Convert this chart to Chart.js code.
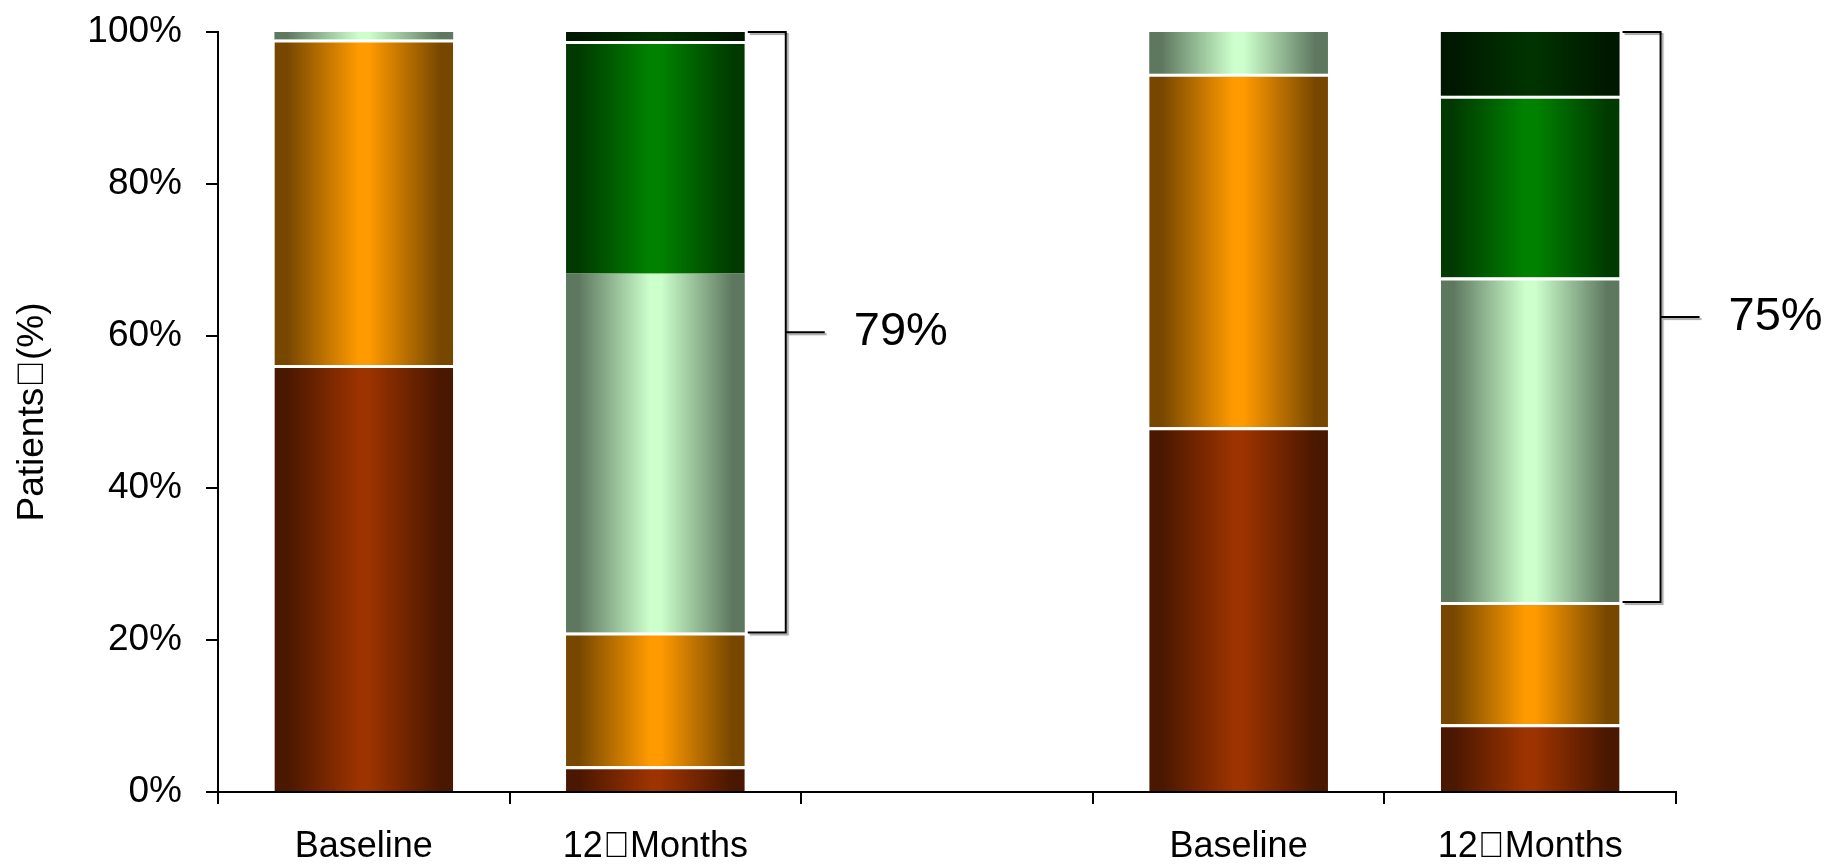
<!DOCTYPE html>
<html>
<head>
<meta charset="utf-8">
<script src="https://cdn.jsdelivr.net/npm/chart.js@4.4.1/dist/chart.umd.min.js"></script>
<style>
  html, body { margin: 0; padding: 0; background: #ffffff; }
  #wrap { width: 1829px; height: 864px; }
</style>
</head>
<body>
<div id="wrap"><canvas id="chart" width="1829" height="864"></canvas></div>
<script>
// Categories: two groups (Baseline / 12 Months) separated by an empty slot
const categories = ['Baseline', '12\uF0A0Months', '', 'Baseline', '12\uF0A0Months'];
const yTickValues = [0, 20, 40, 60, 80, 100];
const yTitle = 'Patients\uF0A0(%)';

// Stacked shares (%) per category, bottom to top
const level1 = [56.2, 3.4, null, 48.0, 8.9];     // red-brown
const level2 = [42.8, 17.6, null, 46.5, 16.1];   // orange
const level3 = [1.0, 47.2, null, 5.5, 42.7];     // light green
const level4 = [null, 30.6, null, null, 23.9];   // green
const level5 = [null, 1.2, null, null, 8.4];     // dark green

// Bars that get a bracket spanning levels 3-5
const bracketBars = [1, 4];

const levels = [level1, level2, level3, level4, level5];
const palettes = [
  { edge: '#4a1700', center: '#9c3300' },
  { edge: '#774700', center: '#ff9a00' },
  { edge: '#5e785f', center: '#ccffcc' },
  { edge: '#003a00', center: '#008200' },
  { edge: '#001800', center: '#003300' }
];
const BAR_PCT = 0.613;
const FONT = "'Liberation Sans', Arial, sans-serif";

function barGradient(pal) {
  return (ctx) => {
    const chart = ctx.chart;
    const xs = chart.scales && chart.scales.x;
    if (!xs || ctx.dataIndex === undefined || !chart.ctx) return pal.center;
    const cx = xs.getPixelForValue(ctx.dataIndex);
    const step = xs.getPixelForValue(1) - xs.getPixelForValue(0);
    const half = step * BAR_PCT / 2;
    if (!isFinite(cx) || !isFinite(half) || half <= 0) return pal.center;
    const g = chart.ctx.createLinearGradient(cx - half, 0, cx + half, 0);
    g.addColorStop(0, pal.edge);
    g.addColorStop(0.07, pal.edge);
    g.addColorStop(0.47, pal.center);
    g.addColorStop(0.53, pal.center);
    g.addColorStop(0.93, pal.edge);
    g.addColorStop(1, pal.edge);
    return g;
  };
}

// White separator above a segment when another segment sits on it
function separator(ctx) {
  const d = ctx.datasetIndex, i = ctx.dataIndex;
  if (d === 2 && i === 1) return 0; // light green meets green directly here
  for (let k = d + 1; k < levels.length; k++) {
    if (levels[k][i] !== null && levels[k][i] > 0) return { top: 3, right: 0, bottom: 0, left: 0 };
  }
  return 0;
}

const datasets = levels.map((vals, k) => ({
  data: vals,
  backgroundColor: barGradient(palettes[k]),
  borderColor: '#ffffff',
  borderWidth: separator,
  borderSkipped: 'start',
  barPercentage: BAR_PCT,
  categoryPercentage: 1.0
}));

const bracketPlugin = {
  id: 'brackets',
  afterDatasetsDraw(chart) {
    const ctx = chart.ctx;
    const ys = chart.scales.y;
    const meta = chart.getDatasetMeta(0);
    bracketBars.forEach((i) => {
      const el = meta.data[i];
      const right = el.x + el.width / 2;
      const lower = level1[i] + level2[i];
      const span = (level3[i] || 0) + (level4[i] || 0) + (level5[i] || 0);
      const upper = lower + span;
      const yLow = ys.getPixelForValue(lower);
      const yHigh = ys.getPixelForValue(upper);
      const mid = (yLow + yHigh) / 2;
      const xv = right + 41;
      ctx.save();
      ctx.strokeStyle = '#000';
      ctx.lineWidth = 2;
      ctx.shadowColor = 'rgba(0,0,0,0.35)';
      ctx.shadowOffsetX = 2;
      ctx.shadowOffsetY = 2;
      ctx.shadowBlur = 1;
      ctx.beginPath();
      ctx.moveTo(right + 3, yHigh);
      ctx.lineTo(xv, yHigh);
      ctx.lineTo(xv, yLow);
      ctx.lineTo(right + 3, yLow);
      ctx.moveTo(xv, mid);
      ctx.lineTo(right + 80, mid);
      ctx.stroke();
      ctx.restore();
      ctx.save();
      ctx.fillStyle = '#000';
      ctx.font = '47px ' + FONT;
      ctx.textAlign = 'left';
      ctx.textBaseline = 'middle';
      ctx.fillText(Math.round(span) + '%', right + 109, mid);
      ctx.restore();
    });
  }
};

new Chart(document.getElementById('chart'), {
  type: 'bar',
  data: { labels: categories, datasets: datasets },
  plugins: [bracketPlugin],
  options: {
    responsive: false,
    animation: false,
    devicePixelRatio: 1,
    layout: { padding: { top: 32, right: 153, bottom: 0, left: 0 } },
    plugins: { legend: { display: false }, tooltip: { enabled: false } },
    scales: {
      x: {
        stacked: true,
        offset: true,
        grid: { offset: true, drawOnChartArea: false, drawTicks: true, tickLength: 12, color: '#000', lineWidth: 2 },
        border: { display: true, color: '#000', width: 2 },
        ticks: { color: '#000', font: { family: FONT, size: 36 }, padding: 21, maxRotation: 0, autoSkip: false },
        afterFit: (s) => { s.height = 72; s.paddingLeft = 0; s.paddingRight = 0; }
      },
      y: {
        stacked: true,
        min: 0,
        max: 100,
        afterBuildTicks: (s) => { s.ticks = yTickValues.map(v => ({ value: v })); },
        grid: { drawOnChartArea: false, drawTicks: true, tickLength: 12, color: '#000', lineWidth: 2 },
        border: { display: true, color: '#000', width: 2 },
        ticks: { color: '#000', font: { family: FONT, size: 37 }, padding: 24, callback: (v) => v + '%' },
        title: { display: true, text: yTitle, color: '#000', font: { family: FONT, size: 37 }, padding: { top: 11, bottom: 0 } },
        afterFit: (s) => { s.width = 218; s.paddingTop = 0; s.paddingBottom = 0; }
      }
    }
  }
});
</script>
</body>
</html>
